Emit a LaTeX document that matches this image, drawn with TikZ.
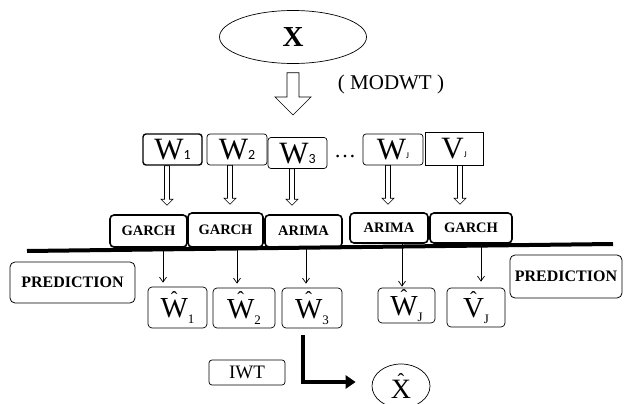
\documentclass[tikz,border=0pt]{standalone}
\usepackage{fontspec}
\setmainfont{Liberation Serif}
\newfontfamily\subf{Carlito}
\usetikzlibrary{shapes.geometric,arrows.meta,calc}
\newcommand\hatted[1]{\leavevmode\vbox{\offinterlineskip\halign{\hfil##\hfil\cr{\fontsize{20}{20}\selectfont ˆ}\cr\noalign{\kern-6.5pt}#1\cr}}}
\tikzset{
  wbox/.style={draw, rounded corners=3pt, line width=0.7pt, inner sep=0pt, font=\fontsize{31}{31}\selectfont, text depth=0pt, minimum height=31pt},
  model/.style={draw, rounded corners=4pt, line width=1.6pt, inner sep=0pt, font=\bfseries\fontsize{14.5}{14.5}\selectfont},
  hbox/.style={draw, rounded corners=4pt, line width=0.7pt, inner sep=0pt, font=\fontsize{29}{29}\selectfont},
  pbox/.style={draw, rounded corners=5pt, line width=0.8pt, inner sep=0pt, font=\bfseries\fontsize{16}{16}\selectfont},
  hollow/.style={line width=0.6pt, to path={let \p1=(\tikztostart), \p2=(\tikztotarget) in
     (\x1-2.5pt,\y1) -- (\x1-2.5pt,\y2+6pt) -- (\x1-6pt,\y2+6pt) -- (\x1,\y2) -- (\x1+6pt,\y2+6pt) -- (\x1+2.5pt,\y2+6pt) -- (\x1+2.5pt,\y1) -- cycle}},
  bighollow/.style={line width=0.7pt, to path={let \p1=(\tikztostart), \p2=(\tikztotarget) in
     (\x1-6pt,\y1) -- (\x1-6pt,\y2+18pt) -- (\x1-18pt,\y2+18pt) -- (\x1,\y2) -- (\x1+18pt,\y2+18pt) -- (\x1+6pt,\y2+18pt) -- (\x1+6pt,\y1) -- cycle}},
  thin/.style={line width=0.7pt, -{Straight Barb[length=5pt,width=7pt]}},
}
\newcommand\sub[1]{{\subf\fontsize{14}{14}\selectfont #1}}
\newcommand\subJ[1]{\raisebox{1pt}{\subf\fontsize{9}{9}\selectfont #1}}
\newcommand\hsub[1]{\raisebox{-6pt}{\fontsize{13}{13}\selectfont #1}}
\begin{document}
\begin{tikzpicture}[x=1pt,y=-1pt]
\useasboundingbox (0,0) rectangle (624,404);
% top
\node[draw, ellipse, line width=0.7pt, minimum width=147pt, minimum height=53pt, inner sep=0pt, font=\bfseries\fontsize{29}{29}\selectfont] (X) at (293,37) {X};
\node[font=\fontsize{21}{21}\selectfont] (modwt) at (391,84) {( MODWT )};
\coordinate (bigtip) at (293,115);
\draw[bighollow] ([yshift=-9pt]X.south) to (bigtip);
% W boxes
\node[wbox, line width=1.4pt, minimum width=59pt] (W1) at (172.5,149.5) {W\sub{1}};
\node[wbox, minimum width=60pt] (W2) at (237,149.5) {W\sub{2}};
\node[wbox, minimum width=59pt] (W3) at (297.5,153) {W\sub{3}};
\node[font=\fontsize{22}{22}\selectfont] (dots) at (345,157) {\ldots};
\node[wbox, minimum width=60pt] (WJ) at (393,149.5) {W\subJ{J}};
\node[wbox, rounded corners=0pt, minimum width=58pt, minimum height=33pt] (VJ) at (454,148.5) {V\subJ{J}};
% model boxes
\node[model, minimum width=77pt, minimum height=32pt] (G1) at (148.5,231) {GARCH};
\node[model, minimum width=75pt, minimum height=34pt] (G2) at (225.5,230) {GARCH};
\node[model, minimum width=77pt, minimum height=32pt] (A1) at (303.5,231) {ARIMA};
\node[model, minimum width=78pt, minimum height=30pt] (A2) at (389,228) {ARIMA};
\node[model, minimum width=82pt, minimum height=30pt] (G3) at (471,228) {GARCH};
% hollow arrows
\draw[hollow] ([xshift=-5.5pt]W1.south) to ([yshift=9pt]G1.north);
\draw[hollow] ([xshift=-7pt]W2.south) to ([yshift=8pt]G2.north);
\draw[hollow] ([xshift=-5.5pt]W3.south) to ([yshift=9pt]A1.north);
\draw[hollow] ([xshift=-5pt]WJ.south) to ([yshift=8pt]A2.north);
\draw[hollow] ([xshift=6pt]VJ.south) to ([yshift=8pt]G3.north);
% line
\coordinate (lineL) at (27,251);
\coordinate (lineR) at (613,244);
\draw[line width=4pt] (lineL) -- (lineR);
% hat boxes
\node[hbox, minimum width=59pt, minimum height=41pt] (H1) at (177.5,307.5) {\hatted{W}\hsub{1}};
\node[hbox, minimum width=62pt, minimum height=40pt] (H2) at (244,308) {\hatted{W}\hsub{2}};
\node[hbox, minimum width=60pt, minimum height=40pt] (H3) at (312,308) {\hatted{W}\hsub{3}};
\node[hbox, minimum width=57pt, minimum height=35pt] (HJ) at (406.5,305.5) {\hatted{W}\hsub{J}};
\node[hbox, minimum width=58pt, minimum height=39pt] (HV) at (476,307.5) {\hatted{V}\hsub{J}};
% thin arrows
\draw[thin] ([xshift=14.5pt]G1.south) -- ([xshift=-14.5pt,yshift=4pt]H1.north);
\draw[thin] ([xshift=11.5pt]G2.south) -- ([xshift=-7pt,yshift=4pt]H2.north);
\draw[thin] ([xshift=2.5pt]A1.south) -- ([xshift=-6pt,yshift=4pt]H3.north);
\draw[thin] ([xshift=13pt]A2.south) -- ([xshift=-4.5pt,yshift=1pt]HJ.north);
\draw[thin] ([xshift=10pt]G3.south) -- ([xshift=5pt,yshift=6pt]HV.north);
% prediction boxes
\node[pbox, minimum width=125pt, minimum height=41pt] (PL) at (72.5,282.5) {PREDICTION};
\node[pbox, minimum width=112pt, minimum height=43pt] (PR) at (566,276.5) {PREDICTION};
% bottom
\node[draw, rounded corners=3pt, line width=0.7pt, minimum width=76pt, minimum height=25pt, inner sep=0pt, font=\fontsize{19}{19}\selectfont] (IWT) at (247,372.5) {IWT};
\node[draw, ellipse, line width=0.7pt, minimum width=58pt, minimum height=44pt, inner sep=0pt, font=\fontsize{28}{28}\selectfont] (Xh) at (401,386) {\hatted{X}};
\draw[line width=3.5pt, -{Triangle[length=10pt,width=13pt]}] ([xshift=-9pt,yshift=-7pt]H3.south) |- ([xshift=-16pt,yshift=4pt]Xh.west);
\end{tikzpicture}
\end{document}
